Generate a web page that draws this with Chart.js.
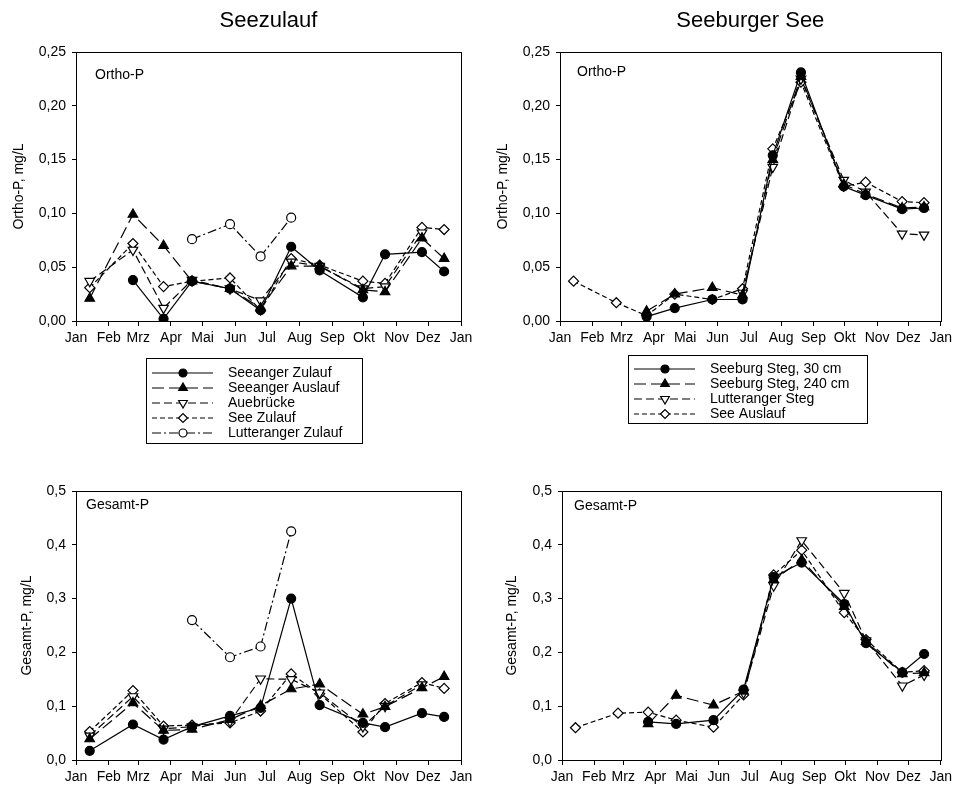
<!DOCTYPE html>
<html>
<head>
<meta charset="utf-8">
<script src="https://cdn.jsdelivr.net/npm/chart.js@4.4.1/dist/chart.umd.min.js"></script>
<style>
  body { margin: 0; background: #fff; width: 956px; height: 788px; position: relative; overflow: hidden; }
  canvas { position: absolute; }
</style>
</head>
<body>
<canvas id="opZulauf" width="478" height="450" style="left:0;top:0"></canvas>
<canvas id="opSee" width="478" height="450" style="left:478px;top:0"></canvas>
<canvas id="tpZulauf" width="478" height="338" style="left:0;top:450px"></canvas>
<canvas id="tpSee" width="478" height="338" style="left:478px;top:450px"></canvas>
<script>
// x axis: day of year, ticks at month starts
const monthStarts = [0, 31, 59, 90, 120, 151, 181, 212, 243, 273, 304, 334, 365];
const monthLabels = ['Jan', 'Feb', 'Mrz', 'Apr', 'Mai', 'Jun', 'Jul', 'Aug', 'Sep', 'Okt', 'Nov', 'Dez', 'Jan'];
const sampleDays = [13, 54, 83, 110, 146, 175, 204, 231, 272, 293, 328, 349];

const zulaufNames = ['Seeanger Zulauf', 'Seeanger Auslauf', 'Auebrücke', 'See Zulauf', 'Lutteranger Zulauf'];
const seeNames = ['Seeburg Steg, 30 cm', 'Seeburg Steg, 240 cm', 'Lutteranger Steg', 'See Auslauf'];

// Ortho-P, Seezulauf
const seeangerZulaufOP = [null, 0.038, 0.002, 0.037, 0.030, 0.010, 0.069, 0.047, 0.022, 0.062, 0.064, 0.046];
const seeangerAuslaufOP = [0.021, 0.099, 0.070, 0.037, 0.030, 0.012, 0.051, 0.051, 0.029, 0.027, 0.077, 0.058];
const auebrueckeOP = [0.037, 0.066, 0.012, 0.038, 0.030, 0.019, 0.055, 0.051, 0.030, 0.032, 0.082, null];
const seeZulaufOP = [0.031, 0.072, 0.032, 0.037, 0.040, 0.010, 0.058, 0.052, 0.037, 0.035, 0.087, 0.085];
const lutterangerZulaufOP = [null, null, null, 0.076, 0.090, 0.060, 0.096, null, null, null, null, null];

// Gesamt-P, Seezulauf
const seeangerZulaufTP = [0.017, 0.066, 0.038, 0.062, 0.082, 0.097, 0.300, 0.102, 0.069, 0.061, 0.087, 0.080];
const seeangerAuslaufTP = [0.039, 0.106, 0.055, 0.057, 0.075, 0.101, 0.132, 0.141, 0.085, 0.099, 0.134, 0.155];
const auebrueckeTP = [0.045, 0.118, 0.058, 0.062, 0.072, 0.151, 0.150, 0.125, 0.062, 0.100, 0.140, null];
const seeZulaufTP = [0.053, 0.129, 0.063, 0.065, 0.069, 0.091, 0.160, 0.123, 0.052, 0.105, 0.144, 0.133];
const lutterangerZulaufTP = [null, null, null, 0.260, 0.191, 0.211, 0.425, null, null, null, null, null];

// Ortho-P, Seeburger See
const seeburg30OP = [null, null, 0.004, 0.012, 0.020, 0.020, 0.154, 0.231, 0.125, 0.117, 0.104, 0.105];
const seeburg240OP = [null, null, 0.009, 0.025, 0.031, 0.024, 0.150, 0.227, 0.127, 0.118, 0.105, 0.106];
const lutterangerStegOP = [null, null, null, null, null, 0.026, 0.143, 0.225, 0.131, 0.120, 0.081, 0.080];
const seeAuslaufOP = [0.037, 0.017, 0.005, 0.025, 0.020, 0.030, 0.160, 0.222, 0.125, 0.129, 0.111, 0.110];

// Gesamt-P, Seeburger See
const seeburg30TP = [null, null, 0.071, 0.067, 0.074, 0.131, 0.340, 0.367, 0.290, 0.217, 0.163, 0.197];
const seeburg240TP = [null, null, 0.067, 0.120, 0.102, 0.128, 0.335, 0.372, 0.285, 0.220, 0.160, 0.162];
const lutterangerStegTP = [null, null, null, null, null, 0.125, 0.324, 0.408, 0.310, 0.222, 0.138, 0.158];
const seeAuslaufTP = [0.060, 0.087, 0.089, 0.074, 0.061, 0.121, 0.344, 0.390, 0.274, 0.224, 0.163, 0.166];

const FONT = '"Liberation Sans", Arial, sans-serif';

const lineStyles = [
  { dash: [], point: 'circle', rot: 0, r: 4.5, fill: '#000' },
  { dash: [12, 5], point: 'triangle', rot: 0, r: 5.5, fill: '#000' },
  { dash: [8, 4], point: 'triangle', rot: 180, r: 5.5, fill: '#fff' },
  { dash: [5, 3], point: 'rectRot', rot: 0, r: 5, fill: '#fff' },
  { dash: [9, 3, 2, 3], point: 'circle', rot: 0, r: 4.5, fill: '#fff' }
];

// frame, titles, inner label, legend box
const panelPlugin = {
  id: 'panel',
  afterDraw(chart, args, o) {
    const ctx = chart.ctx, a = chart.chartArea;
    ctx.save();
    ctx.strokeStyle = '#000';
    ctx.lineWidth = 1;
    ctx.setLineDash([]);
    ctx.strokeRect(Math.round(a.left) + 0.5, Math.round(a.top) + 0.5,
      Math.round(a.right - a.left), Math.round(a.bottom - a.top));
    ctx.fillStyle = '#000';
    ctx.textBaseline = 'middle';
    ctx.textAlign = 'left';
    ctx.font = '14px ' + FONT;
    ctx.fillText(o.label, a.left + o.labelDx, a.top + o.labelDy);
    if (o.title) {
      ctx.font = '22px ' + FONT;
      ctx.textAlign = 'center';
      ctx.fillText(o.title, (a.left + a.right) / 2, 21);
    }
    const lg = o.legend;
    if (lg) {
      ctx.strokeRect(lg.x + 0.5, lg.y + 0.5, lg.w, lg.h);
      ctx.font = '14px ' + FONT;
      ctx.textAlign = 'left';
      chart.data.datasets.forEach((ds, i) => {
        const y = lg.y + lg.first + i * lg.step;
        ctx.strokeStyle = '#000';
        ctx.lineWidth = 1.2;
        ctx.setLineDash(ds.borderDash);
        ctx.beginPath();
        ctx.moveTo(lg.x + 6, y);
        ctx.lineTo(lg.x + 67, y);
        ctx.stroke();
        ctx.setLineDash([]);
        ctx.fillStyle = ds.pointBackgroundColor;
        Chart.helpers.drawPoint(ctx, {
          pointStyle: ds.pointStyle, rotation: ds.pointRotation,
          radius: ds.pointRadius - 0.5, borderWidth: 1
        }, lg.x + 37, y);
        ctx.fillStyle = '#000';
        ctx.fillText(ds.label, lg.x + 82, y);
      });
    }
    ctx.restore();
  }
};

function makeChart(id, p) {
  const datasets = p.series.map((vals, i) => {
    const st = lineStyles[i];
    return {
      label: p.names[i],
      data: sampleDays.map((d, k) => ({ x: d, y: vals[k] })),
      borderColor: '#000',
      borderWidth: 1.2,
      borderDash: st.dash,
      pointStyle: st.point,
      pointRotation: st.rot,
      pointRadius: st.r,
      pointBackgroundColor: st.fill,
      pointBorderColor: '#000',
      pointBorderWidth: 1.2,
      tension: 0,
      fill: false,
      spanGaps: false
    };
  });
  const tickFont = { family: FONT, size: 14 };
  return new Chart(document.getElementById(id), {
    type: 'line',
    data: { datasets },
    plugins: [panelPlugin],
    options: {
      responsive: false,
      animation: false,
      events: [],
      layout: { padding: p.pad },
      plugins: {
        legend: { display: false },
        tooltip: { enabled: false },
        panel: p.panel
      },
      scales: {
        x: {
          type: 'linear', min: 0, max: 365,
          afterBuildTicks: s => { s.ticks = monthStarts.map(v => ({ value: v })); },
          afterFit: s => { s.height = p.xHeight; },
          ticks: { autoSkip: false, maxRotation: 0, color: '#000', font: tickFont, padding: 4,
            callback: (v, i) => monthLabels[i] },
          grid: { drawOnChartArea: false, drawTicks: true, tickLength: 5, color: '#000' },
          border: { display: true, color: '#000' }
        },
        y: {
          min: 0, max: p.yMax,
          afterFit: s => { s.width = p.yWidth; },
          ticks: { stepSize: p.yStep, color: '#000', font: tickFont, padding: 6,
            callback: v => v.toFixed(p.decimals).replace('.', ',') },
          title: { display: true, text: p.yTitle, color: '#000', font: tickFont,
            padding: { top: p.titlePad, bottom: 0 } },
          grid: { drawOnChartArea: false, drawTicks: true, tickLength: 4, color: '#000' },
          border: { display: true, color: '#000' }
        }
      }
    }
  });
}

makeChart('opZulauf', {
  names: zulaufNames,
  series: [seeangerZulaufOP, seeangerAuslaufOP, auebrueckeOP, seeZulaufOP, lutterangerZulaufOP],
  yMax: 0.25, yStep: 0.05, decimals: 2, yTitle: 'Ortho-P, mg/L', titlePad: 10.6,
  yWidth: 76, xHeight: 30,
  pad: { left: 0, right: 17, top: 52, bottom: 99 },
  panel: { title: 'Seezulauf', label: 'Ortho-P', labelDx: 19, labelDy: 23,
    legend: { x: 146, y: 358, w: 216, h: 85, first: 15, step: 15 } }
});

makeChart('opSee', {
  names: seeNames,
  series: [seeburg30OP, seeburg240OP, lutterangerStegOP, seeAuslaufOP],
  yMax: 0.25, yStep: 0.05, decimals: 2, yTitle: 'Ortho-P, mg/L', titlePad: 16.6,
  yWidth: 82, xHeight: 30,
  pad: { left: 0, right: 11, top: 52, bottom: 99 },
  panel: { title: 'Seeburger See', label: 'Ortho-P', labelDx: 17, labelDy: 20,
    legend: { x: 150, y: 355, w: 239, h: 68, first: 14, step: 15 } }
});

makeChart('tpZulauf', {
  names: zulaufNames,
  series: [seeangerZulaufTP, seeangerAuslaufTP, auebrueckeTP, seeZulaufTP, lutterangerZulaufTP],
  yMax: 0.5, yStep: 0.1, decimals: 1, yTitle: 'Gesamt-P, mg/L', titlePad: 19,
  yWidth: 76, xHeight: 28,
  pad: { left: 0, right: 17, top: 41, bottom: 0 },
  panel: { label: 'Gesamt-P', labelDx: 10, labelDy: 14 }
});

makeChart('tpSee', {
  names: seeNames,
  series: [seeburg30TP, seeburg240TP, lutterangerStegTP, seeAuslaufTP],
  yMax: 0.5, yStep: 0.1, decimals: 1, yTitle: 'Gesamt-P, mg/L', titlePad: 25.6,
  yWidth: 84, xHeight: 28,
  pad: { left: 0, right: 10, top: 41, bottom: 0 },
  panel: { label: 'Gesamt-P', labelDx: 12, labelDy: 15 }
});
</script>
</body>
</html>
